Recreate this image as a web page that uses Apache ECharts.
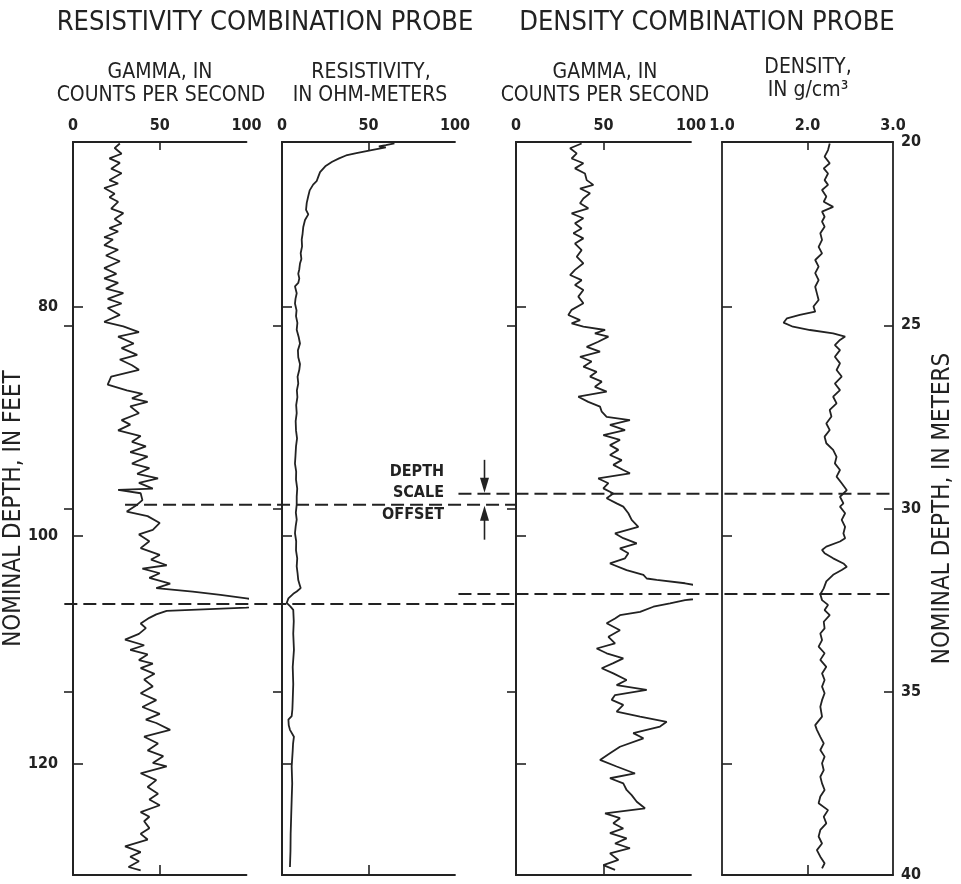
<!DOCTYPE html>
<html><head><meta charset="utf-8">
<script src="https://cdn.jsdelivr.net/npm/echarts@6/dist/echarts.min.js"></script>
<style>html,body{margin:0;padding:0;background:#fff}#c{width:961px;height:884px}</style>
</head><body><div id="c"></div>
<script>
// ---------------- DATA ----------------
// Resistivity combination probe, gamma (counts per second) vs nominal depth (feet)
const gammaResDepthFt = [65.7,66.1,66.6,67.0,67.4,67.9,68.3,68.9,69.2,69.6,
 70.1,70.4,70.8,71.4,71.8,72.3,72.7,73.1,73.4,73.9,
 74.1,74.6,75.0,75.5,76.0,76.6,77.1,77.5,77.9,78.4,
 78.8,79.3,79.7,80.1,80.7,81.3,81.7,82.2,82.6,83.2,
 83.6,84.2,84.6,85.1,85.5,86.1,86.8,87.3,87.6,88.0,
 88.3,88.7,89.3,89.9,90.3,90.8,91.3,91.8,92.2,92.7,
 93.1,93.7,94.1,94.6,95.0,95.4,95.9,96.0,96.3,96.9,
 97.3,97.9,98.3,98.9,99.5,99.9,100.5,101.1,101.7,102.1,
 102.6,102.9,103.3,103.7,104.2,104.6,104.9,105.2,105.5,105.8,
 106.1,106.3,106.6,106.9,107.2,107.7,108.1,108.6,109.1,109.6,
 110.0,110.4,110.9,111.2,111.6,112.1,112.6,113.2,113.8,114.4,
 115.0,115.6,116.1,116.4,117.0,117.6,118.2,118.8,119.3,119.9,
 120.2,120.8,121.4,122.0,122.6,123.1,123.6,124.2,124.6,125.0,
 125.6,126.1,126.6,127.2,127.7,128.1,128.5,129.0,129.3];
const gammaResCps = [27,24,28,21,27,22,28,21,26,18,
 24,21,26,22,29,24,28,21,26,18,
 23,18,26,19,27,18,25,18,26,19,
 29,20,28,20,27,18,29,38,26,35,
 28,37,27,34,38,22,20,31,40,34,
 43,33,38,28,33,26,39,34,42,33,
 43,34,44,37,49,38,46,26,39,40,
 37,31,43,50,46,38,44,39,50,45,
 54,40,50,44,56,48,69,85,100,115,
 115,100,54,48,44,39,42,38,30,41,
 33,43,38,46,39,47,41,46,39,48,
 40,50,42,48,56,41,49,43,52,46,
 54,39,48,43,49,44,50,39,44,41,
 44,39,43,30,39,33,38,32,39];

// Resistivity (ohm-meters) vs nominal depth (feet)
const resDepthFt = [65.7,65.85,65.95,66.05,66.3,66.55,66.75,67.0,67.3,67.7,
 68.2,68.6,69.0,69.3,69.8,70.3,70.9,71.5,71.9,72.4,
 73.0,73.6,74.1,74.7,75.3,75.8,76.2,76.7,77.1,77.5,
 77.9,78.2,78.8,79.3,79.7,80.3,80.8,81.4,82.0,82.6,
 83.2,83.8,84.4,85.0,85.5,86.1,86.7,87.3,87.9,88.6,
 89.3,90.0,90.8,91.5,92.2,93.0,93.7,94.4,95.1,95.9,
 96.6,97.3,98.0,98.6,99.2,99.8,100.5,101.3,102.0,102.7,
 103.3,103.9,104.3,104.6,104.9,105.1,105.5,105.9,106.2,106.5,
 107.5,108.6,110.0,111.5,113.0,114.4,115.2,115.8,116.1,116.6,
 117.0,117.6,118.2,118.8,120.2,121.7,123.1,124.6,126.1,127.6,
 129.0];
const resOhm = [65,60,56,60,51,43,37,33,29,25,
 22,21,20,18,16,15.2,14.3,13.9,15.2,13.3,
 12.3,11.9,11.4,11.6,10.8,11.2,10.4,10.0,9.4,10.0,
 9.4,7.5,8.5,7.8,7.5,8.4,8.1,8.9,8.5,9.6,
 10.4,9.2,9.4,10.4,10.0,9.0,9.4,8.6,8.9,8.2,
 8.5,7.9,8.1,8.7,8.1,7.8,7.5,8.2,8.1,8.8,
 8.5,8.5,8.0,8.5,7.9,7.5,8.2,8.1,8.8,8.5,
 9.0,9.4,10.2,10.8,8.5,6.5,3.7,2.7,4.8,6.5,
 6.8,6.5,6.9,6.2,6.5,6.2,6.0,5.6,3.7,3.9,
 4.6,6.9,6.4,6.2,5.6,5.9,5.6,5.3,5.0,4.9,
 4.6];

// Density combination probe, gamma (counts per second) vs nominal depth (meters)
const gammaDenDepthM = [20.04,20.17,20.31,20.45,20.58,20.72,20.86,21.04,21.17,21.27,
 21.40,21.54,21.67,21.81,21.95,22.08,22.22,22.36,22.49,22.63,
 22.77,22.95,23.13,23.31,23.49,23.63,23.77,23.90,24.04,24.22,
 24.40,24.58,24.72,24.86,24.95,25.04,25.13,25.22,25.31,25.45,
 25.59,25.72,25.86,25.99,26.13,26.27,26.40,26.54,26.68,26.81,
 26.95,27.09,27.22,27.36,27.50,27.59,27.72,27.86,28.00,28.13,
 28.27,28.40,28.54,28.68,28.81,28.95,29.04,29.18,29.31,29.45,
 29.59,29.72,29.86,29.95,
 30.13,30.31,30.50,30.68,30.81,30.95,31.09,31.22,31.36,31.50,
 31.68,31.81,31.91,31.95,32.04,32.2,32.4,32.50,32.59,32.68,
 32.82,32.91,33.00,33.13,33.32,33.50,33.68,33.82,33.95,34.09,
 34.22,34.36,34.50,34.68,34.82,34.95,35.09,35.22,35.36,35.54,
 35.68,35.82,35.95,36.13,36.27,36.50,36.68,36.86,37.04,37.23,
 37.36,37.50,37.68,37.82,38.00,38.18,38.32,38.45,38.59,38.73,
 38.86,39.00,39.14,39.27,39.41,39.59,39.73,39.86];
const gammaDenCps = [37.5,30.9,34.7,31.8,38.5,33.7,39.4,40.4,44.2,36.6,
 42.3,38.5,36.6,41.3,31.8,38.5,33.7,37.5,32.8,38.5,
 33.7,37.5,34.7,38.5,33.7,30.9,37.5,33.7,38.5,35.6,
 38.5,31.8,29.9,36.6,31.8,38.5,50.9,45.1,52.8,47.0,
 40.4,48.0,36.6,43.2,38.5,46.1,42.3,49.0,45.1,51.8,
 35.6,41.3,48.0,49.0,51.8,65.1,53.7,62.3,49.9,59.4,
 53.7,58.5,53.7,60.4,55.6,61.3,65.1,47.0,52.8,49.9,
 55.6,51.8,57.5,61.3,
 64.2,66.1,69.9,56.6,61.3,69.0,59.4,64.2,62.3,53.7,
 63.2,72.8,74.7,80.4,96.6,115,115,96.6,88.0,78.5,
 70.9,59.4,56.6,51.8,59.4,52.8,56.6,46.1,51.8,61.3,
 55.6,49.0,55.6,63.2,57.5,74.7,56.6,54.7,61.3,57.5,
 70.9,86.1,82.3,67.0,72.8,59.4,53.7,48.0,57.5,68.0,
 53.7,61.3,63.2,66.1,69.0,73.7,50.9,59.4,55.6,61.3,
 53.7,63.2,56.6,65.1,53.7,58.5,49.9,56.6];

// Density (g/cm3) vs nominal depth (meters)
const denDepthM = [20.04,20.22,20.40,20.58,20.72,20.86,21.04,21.17,21.31,21.49,
 21.63,21.77,21.90,22.04,22.17,22.31,22.49,22.67,22.86,23.04,
 23.22,23.40,23.58,23.77,23.95,24.13,24.31,24.49,24.63,24.72,
 24.81,24.93,25.04,25.13,25.22,25.31,25.40,25.54,25.68,25.86,
 26.04,26.22,26.40,26.59,26.77,26.95,27.13,27.31,27.49,27.68,
 27.86,28.04,28.22,28.40,28.59,28.77,28.95,29.13,29.31,29.50,
 29.68,29.86,
 29.95,30.13,30.31,30.50,30.68,30.81,30.90,31.04,31.13,31.22,
 31.36,31.50,31.59,31.68,31.81,31.99,32.18,32.34,32.50,32.63,
 32.77,32.91,33.09,33.27,33.41,33.59,33.77,33.95,34.13,34.32,
 34.50,34.68,34.86,35.04,35.23,35.41,35.68,35.91,36.04,36.23,
 36.41,36.59,36.77,36.95,37.14,37.32,37.50,37.68,37.86,38.04,
 38.23,38.41,38.59,38.77,38.95,39.14,39.32,39.50,39.68,39.82];
const denGcc = [2.26,2.24,2.20,2.26,2.19,2.24,2.20,2.24,2.17,2.22,
 2.19,2.30,2.17,2.20,2.17,2.20,2.15,2.17,2.13,2.17,
 2.09,2.13,2.09,2.13,2.09,2.11,2.13,2.07,2.09,1.91,
 1.76,1.72,1.83,2.03,2.30,2.44,2.38,2.32,2.38,2.32,
 2.38,2.34,2.40,2.32,2.38,2.30,2.34,2.26,2.28,2.22,
 2.26,2.20,2.22,2.30,2.34,2.32,2.38,2.34,2.40,2.46,
 2.38,2.42,
 2.38,2.44,2.40,2.44,2.42,2.44,2.38,2.22,2.17,2.20,
 2.30,2.42,2.46,2.40,2.30,2.22,2.19,2.15,2.17,2.24,
 2.20,2.26,2.19,2.20,2.15,2.17,2.13,2.20,2.15,2.22,
 2.17,2.20,2.17,2.20,2.17,2.15,2.17,2.09,2.11,2.15,
 2.19,2.15,2.20,2.17,2.19,2.15,2.17,2.20,2.15,2.13,
 2.24,2.19,2.22,2.15,2.13,2.17,2.11,2.15,2.20,2.17];

// Axis ticks / labels
const cpsTicks = [0, 50, 100];
const densityTicks = [1.0, 2.0, 3.0];
const feetTicks = [80, 100, 120];
const meterTicks = [25, 30, 35];
const meterLabels = [20, 25, 30, 35, 40];
const feetRange = [65.57, 129.7];
const meterRange = [20, 40];
// Depth scale offset lines
const offsetFeet = [97.3, 106.0];     // resistivity probe depth scale
const offsetMeters = [29.6, 32.33];   // density probe depth scale

// ---------------- LAYOUT / STYLE ----------------
const FONT = "'Liberation Sans Narrow','Arial Narrow','DejaVu Sans Condensed',sans-serif";
const INK = '#222222';
const GRID_TOP = 142, GRID_H = 733;

const panels = [
  {left: 73,  width: 173.5, ticks: cpsTicks, depth: gammaResDepthFt, vals: gammaResCps, unit: 'ft'},
  {left: 282, width: 173,   ticks: cpsTicks, depth: resDepthFt,      vals: resOhm,      unit: 'ft'},
  {left: 516, width: 175,   ticks: cpsTicks, depth: gammaDenDepthM,  vals: gammaDenCps, unit: 'm'},
  {left: 722, width: 171,   ticks: densityTicks, depth: denDepthM,   vals: denGcc,      unit: 'm', dec: 1}
];

const axisLine = {show: true, lineStyle: {color: INK, width: 1.8}};
const tickStyle = {color: INK, width: 1.6};
const labelFont = {fontFamily: FONT, fontSize: 16, fontWeight: 'bold', color: INK};

const grid = [], xAxis = [], yAxis = [], series = [];
panels.forEach((p, i) => {
  grid.push({left: p.left, top: GRID_TOP, width: p.width, height: GRID_H,
    containLabel: false, outerBoundsMode: 'none'});
  const fmt = v => p.dec ? Number(v).toFixed(p.dec) : String(Math.round(v));
  xAxis.push({type: 'value', gridIndex: i, position: 'top', min: p.ticks[0], max: p.ticks[2],
    interval: p.ticks[1] - p.ticks[0],
    axisLine, splitLine: {show: false},
    axisTick: {show: true, inside: true, length: 8, customValues: [p.ticks[1]], lineStyle: tickStyle},
    axisLabel: Object.assign({show: true, margin: 8, customValues: p.ticks, formatter: fmt}, labelFont)});
  xAxis.push({type: 'value', gridIndex: i, position: 'bottom', min: p.ticks[0], max: p.ticks[2],
    interval: p.ticks[1] - p.ticks[0],
    axisLine, splitLine: {show: false},
    axisTick: {show: true, inside: true, length: 10, customValues: [p.ticks[1]], lineStyle: tickStyle},
    axisLabel: {show: false}});
  const ftAxis = {type: 'value', gridIndex: i, position: 'left', inverse: true,
    min: feetRange[0], max: feetRange[1], axisLine, splitLine: {show: false},
    axisTick: {show: true, inside: true, length: 10, customValues: feetTicks, lineStyle: tickStyle},
    axisLabel: Object.assign({show: i === 0, margin: 15, customValues: feetTicks}, labelFont)};
  if (i === 0) {
    Object.assign(ftAxis, {name: 'NOMINAL DEPTH, IN FEET', nameLocation: 'middle', nameRotate: 90, nameGap: 47,
      nameMoveOverlap: false,
      nameTextStyle: {fontFamily: FONT, fontSize: 24, color: INK}});
  }
  yAxis.push(ftAxis);
  const mAxis = {type: 'value', gridIndex: i, position: 'right', inverse: true,
    min: meterRange[0], max: meterRange[1], axisLine, splitLine: {show: false},
    axisTick: {show: true, inside: true, length: 9, customValues: meterTicks, lineStyle: tickStyle},
    axisLabel: Object.assign({show: i === 3, margin: 8, customValues: meterLabels, align: 'left'}, labelFont)};
  if (i === 3) {
    Object.assign(mAxis, {name: 'NOMINAL DEPTH, IN METERS', nameLocation: 'middle', nameRotate: 90, nameGap: 38,
      nameTextStyle: {fontFamily: FONT, fontSize: 24, color: INK}});
  }
  yAxis.push(mAxis);
  series.push({type: 'line', xAxisIndex: 2 * i, yAxisIndex: p.unit === 'ft' ? 2 * i : 2 * i + 1,
    data: p.depth.map((d, k) => [p.vals[k], d]), showSymbol: false, symbol: 'none', clip: true,
    lineStyle: {color: INK, width: 1.8}, z: 3});
});

const option = {animation: false, backgroundColor: '#fff', grid, xAxis, yAxis, series};
const chart = echarts.init(document.getElementById('c'));
chart.setOption(option);

// ---------------- ANNOTATIONS ----------------
const X = (idx, v) => chart.convertToPixel({xAxisIndex: idx}, v);
const Y = (idx, v) => chart.convertToPixel({yAxisIndex: idx}, v);
const dash = {stroke: INK, lineWidth: 2, lineDash: [13, 6]};

const yUL = Y(0, offsetFeet[0]), yLL = Y(0, offsetFeet[1]);
const yUR = Y(7, offsetMeters[0]), yLR = Y(7, offsetMeters[1]);
const xLeftEnd = X(4, 0);
const xRightStart = X(2, 102), xRightEnd = X(6, 3.0);
const ax = (X(2, 100) + X(4, 0)) / 2 - 1;

function txt(text, x, y, size, opts) {
  return {type: 'text', x, y, z: 120, style: Object.assign({text, fill: INK,
    font: `${(opts && opts.weight) || 'normal'} ${size}px ${FONT}`,
    textAlign: 'center', textVerticalAlign: 'middle'}, (opts && opts.style) || {})};
}

const graphic = [
  {type: 'line', z: 110, shape: {x1: X(0, 30), y1: yUL, x2: xLeftEnd, y2: yUL}, style: dash},
  {type: 'line', z: 110, shape: {x1: X(0, -5), y1: yLL, x2: xLeftEnd, y2: yLL}, style: dash},
  {type: 'line', z: 110, shape: {x1: xRightStart, y1: yUR, x2: xRightEnd, y2: yUR}, style: dash},
  {type: 'line', z: 110, shape: {x1: xRightStart, y1: yLR, x2: xRightEnd, y2: yLR}, style: dash},
  // arrows
  {type: 'line', z: 111, shape: {x1: ax, y1: yUR - 34, x2: ax, y2: yUR - 12}, style: {stroke: INK, lineWidth: 1.6}},
  {type: 'polygon', z: 111, shape: {points: [[ax - 4.5, yUR - 16], [ax + 4.5, yUR - 16], [ax, yUR - 1]]}, style: {fill: INK}},
  {type: 'line', z: 111, shape: {x1: ax, y1: yUL + 35, x2: ax, y2: yUL + 12}, style: {stroke: INK, lineWidth: 1.6}},
  {type: 'polygon', z: 111, shape: {points: [[ax - 4.5, yUL + 16], [ax + 4.5, yUL + 16], [ax, yUL + 1]]}, style: {fill: INK}},
  // titles
  txt('RESISTIVITY COMBINATION PROBE', 265, 23, 27),
  txt('DENSITY COMBINATION PROBE', 707, 23, 27),
  txt('GAMMA, IN', 160, 73, 21),
  txt('COUNTS PER SECOND', 161, 96, 21),
  txt('RESISTIVITY,', 371, 73, 21),
  txt('IN OHM-METERS', 370, 96, 21),
  txt('GAMMA, IN', 605, 73, 21),
  txt('COUNTS PER SECOND', 605, 96, 21),
  txt('DENSITY,', 808, 68, 21),
  txt('IN g/cm\u00B3', 808, 91, 21),
  txt('DEPTH', 444, 472, 16, {weight: 'bold', style: {textAlign: 'right'}}),
  txt('SCALE', 444, 493, 16, {weight: 'bold', style: {textAlign: 'right'}}),
  txt('OFFSET', 444, 515, 16, {weight: 'bold', style: {textAlign: 'right'}})
];
chart.setOption({graphic});
</script>
</body></html>
